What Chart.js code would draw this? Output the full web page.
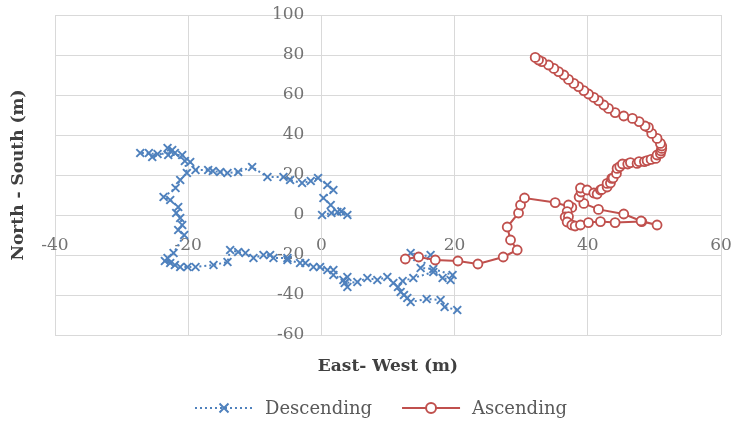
<!DOCTYPE html>
<html>
<head>
<meta charset="utf-8">
<script src="https://cdn.jsdelivr.net/npm/chart.js@4"></script>
<style>
  html, body { margin: 0; padding: 0; background: #ffffff; }
  #wrap { width: 732px; height: 422px; }
</style>
</head>
<body>
<div id="wrap"><canvas id="c" width="732" height="422"></canvas></div>
<script>
// Axis ticks (metres)
const xTicks = [-40, -20, 0, 20, 40, 60];
const yTicks = [-60, -40, -20, 0, 20, 40, 60, 80, 100];

// Series names and axis titles
const seriesNames = ['Descending', 'Ascending'];
const xTitle = 'East- West (m)';
const yTitle = 'North - South (m)';

// Descending track: east-west / north-south positions (null = break in the path)
const descX = [0.1, 1.5, 3.9, 3.0, 2.4, 1.4, 0.3, 1.8, 0.9, -0.5, -1.6, -2.9, -4.7, -5.7, -8.1, -10.4, -12.5, -14.1, -15.2, -16.3,
  -17.0, -18.9, -19.7, -20.9, -23.0, -23.1, -22.4, -25.4, -25.9, -27.2, -24.6, -22.0, -20.5, -20.2, -21.2, -21.9, -23.7, -22.7, -21.5, -21.8,
  -21.2, -20.9, -21.5, -20.6, -22.2, -23.1, -22.7, -23.5, -22.0, -21.2, -20.1, -18.9, -16.2, -14.1, -13.7, -12.5, -11.4, -10.2, -8.7, -7.7,
  -7.2, -5.1, -5.1, -3.2, -2.4, -1.2, -0.2, 0.9, 1.8, 1.8, 3.3, 3.9, 3.9, 3.5, 5.4, 6.9, 8.4, 9.9, 10.8, 11.5,
  11.9, 12.4, 12.9, 13.4, 15.8, 17.9, 18.5, 20.4, null,
  12.2, 13.8, 16.8, 18.2, 19.4, 19.7, 16.8, 14.9, 16.4, 14.4, 13.4];
const descY = [0, 1, 0, 1.8, 1.5, 5, 8.5, 12.5, 15, 18.5, 17, 16, 17.5, 19, 19, 24, 21.5, 21, 21.5, 22,
  22.5, 22.5, 26.5, 30, 30, 33.5, 32.5, 29, 31, 31, 30.5, 31, 27, 21, 17.5, 13.5, 9, 7.5, 4, 1,
  -1.5, -5, -7.5, -10, -19, -21.5, -24, -23, -25, -26, -26, -26, -25, -23.5, -17.5, -18.5, -19, -21.5, -20, -20,
  -21.5, -21.5, -22.5, -24, -24, -26, -26, -27.5, -27.5, -30, -32.5, -31, -36, -34, -33.5, -31.5, -32.5, -31, -34, -36,
  -38.5, -40, -41.5, -43.5, -42, -42.5, -46, -47.5, null,
  -33, -31.5, -28.5, -31.5, -32.5, -30, -27, -26.5, -20, -21, -19];

// Ascending track
const ascX = [12.6, 14.6, 17.1, 20.5, 23.5, 27.3, 29.4, 28.4, 27.9, 29.6, 29.9, 30.5, 35.1, 37.6, 37.1, 36.9, 36.6, 37.1, 36.9, 37.6,
  38.1, 38.9, 40.1, 41.9, 44.1, 48.1, 50.4, 48.0, 45.4, 41.6, 39.4, 38.7, 39.0, 38.9, 39.9, 40.9, 41.4, 41.9, 42.1, 42.9,
  42.9, 43.4, 43.6, 43.8, 44.3, 44.4, 44.8, 45.2, 46.0, 46.4, 47.4, 47.7, 48.5, 48.9, 49.5, 50.2, 50.4, 50.9, 51.0, 51.1,
  51.1, 50.9, 50.4, 49.6, 49.1, 48.6, 47.7, 46.7, 45.4, 44.1, 43.1, 42.4, 41.6, 40.9, 40.1, 39.4, 38.6, 37.9, 37.1, 36.4,
  35.6, 34.9, 34.1, 33.1, 32.6, 32.1];
const ascY = [-22, -21, -22.5, -23, -24.5, -21, -17.5, -12.5, -6, 1, 5, 8.5, 6.2, 3.8, 5, 1.7, -1, -0.8, -3.5, -5,
  -5.5, -5, -3.8, -3.3, -3.8, -3.3, -5, -3, 0.5, 2.8, 5.8, 9, 11.5, 13.5, 12.5, 11, 10.5, 12.5, 12.8, 14,
  15.8, 16, 18.3, 18.5, 20.8, 23.3, 24.2, 25.5, 25.5, 26.2, 25.8, 26.7, 26.7, 27.2, 27.8, 28.3, 30, 30.8, 32, 33.3,
  34.5, 35.8, 38.3, 40.8, 43.8, 44.5, 46.7, 48.3, 49.5, 51.2, 53.3, 55, 57.2, 58.8, 60.5, 62.2, 64.2, 65.8, 67.8, 70,
  71.7, 73.3, 75, 76.7, 77.5, 78.8];

const BLUE = '#4f81bd';
const RED = '#c0504d';
const GRID = '#d9d9d9';
const SERIF = '"DejaVu Serif", "Liberation Serif", serif';

Chart.defaults.font.family = SERIF;

function toPoints(xs, ys) {
  return xs.map((x, i) => ({ x: x, y: ys[i] }));
}

function drawCross(ctx, x, y, r) {
  ctx.beginPath();
  ctx.moveTo(x - r, y - r); ctx.lineTo(x + r, y + r);
  ctx.moveTo(x - r, y + r); ctx.lineTo(x + r, y - r);
  ctx.stroke();
}

// Axis titles and a legend with line + marker samples, drawn under the plot
const decorations = {
  id: 'decorations',
  afterDraw(chart) {
    const ctx = chart.ctx;
    const area = chart.chartArea;
    const cx = (area.left + area.right) / 2;
    const cy = (area.top + area.bottom) / 2;
    ctx.save();
    ctx.fillStyle = '#404040';
    ctx.font = 'bold 17px ' + SERIF;
    ctx.textAlign = 'center';
    ctx.textBaseline = 'middle';
    ctx.fillText(xTitle, cx, area.bottom + 32);
    ctx.save();
    ctx.translate(19, cy);
    ctx.rotate(-Math.PI / 2);
    ctx.fillText(yTitle, 0, 0);
    ctx.restore();

    // legend
    ctx.font = '18px ' + SERIF;
    const lineLen = 58, gapText = 12, gapItem = 30;
    const widths = seriesNames.map(n => ctx.measureText(n).width);
    const total = widths.reduce((a, w) => a + lineLen + gapText + w, 0) + gapItem;
    let x = cx - 7 - total / 2;
    const y = area.bottom + 73;
    seriesNames.forEach((name, i) => {
      const color = i === 0 ? BLUE : RED;
      ctx.strokeStyle = color;
      ctx.lineWidth = 2;
      ctx.setLineDash(i === 0 ? [2, 3] : []);
      ctx.beginPath();
      ctx.moveTo(x, y); ctx.lineTo(x + lineLen, y);
      ctx.stroke();
      ctx.setLineDash([]);
      const mx = x + lineLen / 2;
      if (i === 0) {
        drawCross(ctx, mx, y, 4.5);
      } else {
        ctx.fillStyle = '#ffffff';
        ctx.beginPath();
        ctx.arc(mx, y, 5, 0, Math.PI * 2);
        ctx.fill();
        ctx.stroke();
      }
      ctx.fillStyle = '#595959';
      ctx.textAlign = 'left';
      ctx.fillText(name, x + lineLen + gapText, y + 1);
      x += lineLen + gapText + widths[i] + gapItem;
    });
    ctx.restore();
  }
};

function flattenScale(s) {
  s.paddingLeft = 0; s.paddingRight = 0; s.paddingTop = 0; s.paddingBottom = 0;
}

new Chart(document.getElementById('c'), {
  type: 'scatter',
  data: {
    datasets: [
      {
        label: seriesNames[0],
        data: toPoints(descX, descY),
        showLine: true,
        spanGaps: false,
        borderColor: BLUE,
        backgroundColor: BLUE,
        borderWidth: 2,
        borderDash: [2, 3],
        pointStyle: 'crossRot',
        pointRadius: 5.5,
        pointHoverRadius: 5.5,
        pointBorderWidth: 2,
        pointBorderColor: BLUE,
        order: 1
      },
      {
        label: seriesNames[1],
        data: toPoints(ascX, ascY),
        showLine: true,
        borderColor: RED,
        backgroundColor: RED,
        borderWidth: 2,
        pointStyle: 'circle',
        pointRadius: 4.5,
        pointHoverRadius: 4.5,
        pointBorderWidth: 1.8,
        pointBorderColor: RED,
        pointBackgroundColor: '#ffffff',
        order: 0
      }
    ]
  },
  options: {
    responsive: false,
    animation: false,
    devicePixelRatio: 1,
    layout: { padding: { left: 55, top: 15, right: 11, bottom: 87 } },
    elements: { line: { tension: 0 } },
    plugins: {
      legend: { display: false },
      tooltip: { enabled: false }
    },
    scales: {
      x: {
        type: 'linear',
        min: xTicks[0],
        max: xTicks[xTicks.length - 1],
        position: { y: 0 },
        afterBuildTicks: s => { s.ticks = xTicks.map(v => ({ value: v })); },
        afterFit: s => { s.height = 0; flattenScale(s); },
        grid: { color: GRID, lineWidth: 1, drawTicks: false },
        border: { color: GRID, width: 1 },
        ticks: { padding: 20, color: '#737373', font: { size: 17 }, maxRotation: 0, autoSkip: false }
      },
      y: {
        type: 'linear',
        min: yTicks[0],
        max: yTicks[yTicks.length - 1],
        position: { x: 0 },
        afterBuildTicks: s => { s.ticks = yTicks.map(v => ({ value: v })); },
        afterFit: s => { s.width = 0; flattenScale(s); },
        grid: { color: GRID, lineWidth: 1, drawTicks: false },
        border: { color: GRID, width: 1 },
        // the label sits left of the vertical axis line, with an em space as the gap
        ticks: { color: '#737373', font: { size: 17 }, autoSkip: false, callback: v => v + '\u2003' }
      }
    }
  },
  plugins: [decorations]
});
</script>
</body>
</html>
